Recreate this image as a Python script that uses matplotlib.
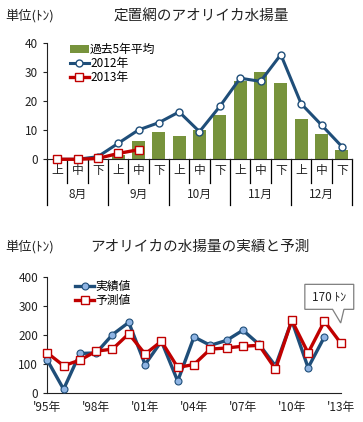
import numpy as np
import matplotlib.pyplot as plt
from matplotlib.patches import Polygon

plt.rcParams['font.family'] = ['Noto Sans CJK JP', 'DejaVu Sans']

# ---- data: top chart (定置網) ----
months = ["8月", "9月", "10月", "11月", "12月"]
periods = ["上", "中", "下"]
avg5 = [0, 0, 0.3, 1.5, 6.3, 9.3, 8.0, 10.0, 15.3, 26.8, 30.1, 26.4, 13.9, 8.6, 3.2]
y2012 = [0, 0, 0.9, 5.5, 10.1, 12.6, 16.3, 9.5, 18.2, 27.9, 26.8, 36.0, 19.1, 11.8, 4.4]
y2013 = [0, 0, 0.3, 2.0, 3.3]

# ---- data: bottom chart (実績と予測) ----
years = list(range(1995, 2014))
actual = [112, 12, 135, 137, 200, 242, 97, 177, 40, 192, 163, 180, 215, 166, 92, 248, 86, 192]
forecast = [137, 93, 112, 143, 150, 203, 133, 177, 87, 97, 150, 154, 160, 163, 81, 249, 137, 246, 171]
year_ticks = [1995, 1998, 2001, 2004, 2007, 2010, 2013]
year_labels = ["'95年", "'98年", "'01年", "'04年", "'07年", "'10年", "'13年"]

blue = "#1F4E79"
red = "#C00000"
green = "#77933C"
txt = "#222222"

fig = plt.figure(figsize=(3.63, 4.22), dpi=100)

# ================= top chart =================
ax1 = fig.add_axes([47 / 363, 1 - 159.3 / 422, 305 / 363, 116.3 / 422])
x = np.arange(len(avg5))
b = ax1.bar(x, avg5, width=0.65, color=green, label="過去5年平均", zorder=1)
l1, = ax1.plot(x, y2012, color=blue, lw=2.2, marker="o", ms=5, mfc="white", mec=blue,
               mew=1.0, label="2012年", zorder=3)
l2, = ax1.plot(x[:len(y2013)], y2013, color=red, lw=2.4, marker="s", ms=5.5,
               mfc="white", mec=red, mew=1.0, label="2013年", zorder=4, clip_on=False)
ax1.set_xlim(-0.5, 14.5)
ax1.set_ylim(0, 40)
ax1.set_yticks([0, 10, 20, 30, 40])
ax1.set_xticks([])
ax1.spines[["top", "right"]].set_visible(False)
ax1.tick_params(axis="y", labelsize=8.5, length=3, direction="out", colors=txt)
ax1.spines["left"].set_color(txt)
ax1.spines["bottom"].set_color(txt)

# category labels and separators
tr = ax1.get_xaxis_transform()
for k in range(16):
    low = -0.393 if k % 3 == 0 else -0.2
    ax1.plot([k - 0.5, k - 0.5], [0, low], transform=tr, color="black", lw=0.9,
             clip_on=False)
for i in range(15):
    ax1.text(i, -0.1, periods[i % 3], transform=tr, ha="center", va="center",
             fontsize=8.5, color=txt)
for m, name in enumerate(months):
    ax1.text(3 * m + 1, -0.306, name, transform=tr, ha="center", va="center",
             fontsize=8.5, color=txt)

ax1.legend([b, l1, l2], ["過去5年平均", "2012年", "2013年"], loc="upper left",
           bbox_to_anchor=(0.06, 1.04), frameon=False,
           fontsize=8.5, handlelength=1.6, handletextpad=0.1, labelspacing=0.1,
           borderaxespad=0, numpoints=1)

fig.text(5 / 363, 1 - 16 / 422, "単位(ﾄﾝ)", fontsize=9.5, va="center", ha="left",
         color=txt)
fig.text(201 / 363, 1 - 16 / 422, "定置網のアオリイカ水揚量", fontsize=10.5,
         va="center", ha="center", color=txt)

# ================= bottom chart =================
ax2 = fig.add_axes([47.3 / 363, 1 - 392.7 / 422, 293.4 / 363, 116.2 / 422])
ax2.plot(years[:len(actual)], actual, color=blue, lw=2.4, marker="o", ms=5,
         mfc="#8EB4E3", mec=blue, mew=0.8, label="実績値", zorder=3, clip_on=False)
ax2.plot(years, forecast, color=red, lw=2.4, marker="s", ms=6, mfc="white",
         mec=red, mew=1.0, label="予測値", zorder=4, clip_on=False)
ax2.set_xlim(1995, 2013)
ax2.set_ylim(0, 400)
ax2.set_yticks([0, 100, 200, 300, 400])
ax2.set_xticks(year_ticks)
ax2.set_xticklabels(year_labels)
ax2.spines[["top", "right"]].set_visible(False)
ax2.spines["left"].set_color(txt)
ax2.spines["bottom"].set_color(txt)
ax2.tick_params(axis="y", labelsize=8.5, length=3, direction="out", colors=txt)
ax2.tick_params(axis="x", labelsize=8.5, length=0, pad=6, colors=txt)

ax2.legend(loc="upper left", bbox_to_anchor=(0.08, 1.01), frameon=False,
           fontsize=8.5, handlelength=1.6, handletextpad=0.1, labelspacing=0.1,
           borderaxespad=0, numpoints=1)

# callout for the 2013 forecast
tx, ty = years[-1], forecast[-1]
callout = Polygon([(2010.8, 373), (2013.8, 373), (2013.8, 287), (2013.2, 287),
                   (tx, ty + 69), (2012.5, 287), (2010.8, 287)], closed=True,
                  facecolor="white", edgecolor="#7F7F7F", lw=0.9, clip_on=False,
                  zorder=5)
ax2.add_patch(callout)
ax2.text(2012.3, 330, f"{ty - 1} ﾄﾝ", ha="center", va="center", fontsize=8.5,
         color=txt, zorder=6)

fig.text(5 / 363, 1 - 247 / 422, "単位(ﾄﾝ)", fontsize=9.5, va="center", ha="left",
         color=txt)
fig.text(200 / 363, 1 - 247 / 422, "アオリイカの水揚量の実績と予測", fontsize=10.5,
         va="center", ha="center", color=txt)

fig.savefig("out.png", dpi=100)
